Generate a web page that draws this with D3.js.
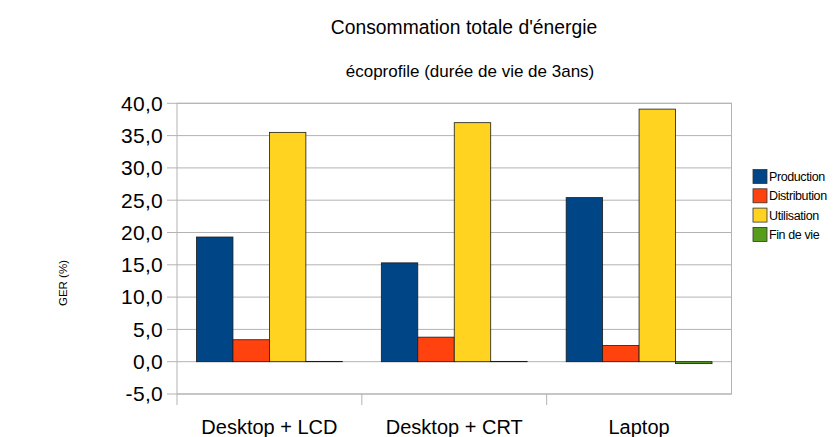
<!DOCTYPE html>
<html><head><meta charset="utf-8">
<script src="https://cdn.jsdelivr.net/npm/d3@7"></script>
<style>body{margin:0;background:#fff}svg{display:block;font-family:"Liberation Sans",Arial,sans-serif}</style>
</head><body><svg id="c" width="833" height="437"></svg>
<script>
const categories = ["Desktop + LCD", "Desktop + CRT", "Laptop"];
const seriesNames = ["Production", "Distribution", "Utilisation", "Fin de vie"];
const production = [19.3, 15.3, 25.4];
const distribution = [3.4, 3.8, 2.5];
const utilisation = [35.5, 37.0, 39.1];
const finDeVie = [0.05, 0.05, -0.3];
const yTicks = [-5, 0, 5, 10, 15, 20, 25, 30, 35, 40];
const colors = ["#004586", "#ff420e", "#ffd320", "#579d1c"];
const series = [production, distribution, utilisation, finDeVie];

const svg = d3.select("#c");
const L = 177, R = 731.5, T = 103.3, B = 394;
const y = d3.scaleLinear().domain([-5, 40]).range([B, T]);
const x0 = d3.scaleBand().domain(categories).range([L, R]).paddingInner(0).paddingOuter(0);
const x1 = d3.scaleBand().domain(seriesNames).range([19.5, x0.bandwidth() - 19.5]);

// gridlines
svg.append("g").selectAll("line").data(yTicks).join("line")
  .attr("x1", L - 10).attr("x2", R).attr("y1", d => y(d)).attr("y2", d => y(d))
  .attr("stroke", "#b3b3b3").attr("stroke-width", 1);
// plot border
svg.append("rect").attr("x", L).attr("y", T).attr("width", R - L).attr("height", B - T)
  .attr("fill", "none").attr("stroke", "#b3b3b3");
// x ticks
svg.append("g").selectAll("line").data(categories).join("line")
  .attr("x1", d => x0(d)).attr("x2", d => x0(d)).attr("y1", B).attr("y2", B + 11)
  .attr("stroke", "#b3b3b3");

// y labels
svg.append("g").selectAll("text").data(yTicks).join("text")
  .attr("x", 163).attr("y", d => y(d)).attr("dy", "0.35em").attr("text-anchor", "end")
  .attr("font-size", 21).attr("letter-spacing", 0.3).attr("fill", "#000")
  .text(d => d3.format(".1f")(d).replace(".", ",").replace("−", "-"));

// bars
const g = svg.append("g");
categories.forEach((c, i) => {
  series.forEach((s, j) => {
    const v = s[i];
    g.append("rect")
      .attr("x", x0(c) + x1(seriesNames[j]))
      .attr("width", x1.bandwidth())
      .attr("y", Math.min(y(v), y(0)))
      .attr("height", Math.abs(y(v) - y(0)))
      .attr("fill", colors[j]).attr("stroke", "#1a1a1a").attr("stroke-width", 0.8);
  });
});

// x labels
svg.append("g").selectAll("text").data(categories).join("text")
  .attr("x", d => x0(d) + x0.bandwidth() / 2).attr("y", 434)
  .attr("text-anchor", "middle").attr("font-size", 20).text(d => d);

// titles
svg.append("text").attr("x", 464).attr("y", 34).attr("text-anchor", "middle")
  .attr("font-size", 19.3).text("Consommation totale d'énergie");
svg.append("text").attr("x", 470).attr("y", 77).attr("text-anchor", "middle")
  .attr("font-size", 17).text("écoprofile (durée de vie de 3ans)");
svg.append("text").attr("transform", "translate(67,283) rotate(-90)").attr("text-anchor", "middle")
  .attr("font-size", 11.5).text("GER (%)");

// legend
const lg = svg.append("g");
seriesNames.forEach((n, j) => {
  const yy = 169.5 + j * 19.3;
  lg.append("rect").attr("x", 753).attr("y", yy).attr("width", 14).attr("height", 14)
    .attr("fill", colors[j]).attr("stroke", "#333").attr("stroke-width", 0.8);
  lg.append("text").attr("x", 769).attr("y", yy + 11.5).attr("font-size", 12.5)
    .attr("letter-spacing", -0.4).text(n);
});
</script></body></html>
